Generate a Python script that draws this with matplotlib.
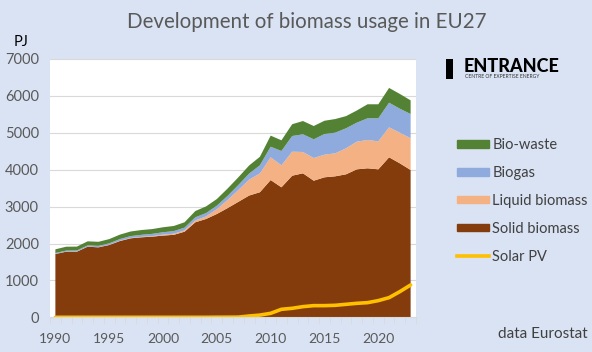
import numpy as np
import matplotlib.pyplot as plt
from matplotlib.patches import Patch, Rectangle
from matplotlib.lines import Line2D

plt.rcParams['font.family'] = ['Lato', 'DejaVu Sans']

years = list(range(1990, 2024))

# PJ
solid = [1715, 1778, 1778, 1914, 1896, 1959, 2068, 2141, 2168, 2186,
         2215, 2235, 2320, 2575, 2665, 2800, 2960, 3130, 3300, 3390,
         3720, 3523, 3838, 3902, 3702, 3794, 3821, 3875, 4010, 4038,
         4010, 4336, 4173, 3992]
liquid = [2, 2, 3, 3, 5, 5, 8, 10, 12, 15,
          25, 30, 35, 50, 70, 130, 220, 320, 430, 510,
          616, 596, 650, 578, 615, 613, 623, 705, 749, 767,
          759, 813, 830, 859]
biogas = [25, 28, 30, 32, 35, 40, 45, 50, 55, 60,
          65, 70, 75, 85, 90, 95, 110, 135, 165, 220,
          287, 388, 425, 479, 507, 560, 559, 542, 515, 588,
          624, 667, 650, 658]
biowaste = [100, 105, 105, 110, 110, 115, 120, 125, 130, 130,
            135, 140, 145, 170, 180, 180, 200, 210, 220, 230,
            300, 290, 320, 360, 360, 360, 370, 330, 330, 380,
            380, 400, 400, 370]
solar_pv = [0, 0, 0, 0, 0, 0, 0, 0, 0, 0,
            0, 0, 0, 0, 0, 2, 3, 5, 35, 60,
            108, 217, 244, 289, 316, 316, 325, 352, 379, 397,
            452, 533, 696, 876]

c_solid = '#843c0c'
c_liquid = '#f4b183'
c_biogas = '#8faadc'
c_waste = '#548235'
c_solar = '#ffc000'
bg = '#dae3f3'
grey = '#595959'

fig = plt.figure(figsize=(5.92, 3.52), dpi=100, facecolor=bg)
ax = fig.add_axes([50/592, 1-317.3/352, 366/592, 258.3/352])
ax.set_facecolor('white')

ax.stackplot(years, solid, liquid, biogas, biowaste,
             colors=[c_solid, c_liquid, c_biogas, c_waste], linewidth=0)
ax.plot(years, solar_pv, color=c_solar, lw=2.6, solid_capstyle='round')

ax.set_xlim(1989.5, 2023.5)
ax.set_ylim(0, 7000)
ax.set_yticks(range(0, 7001, 1000))
ax.yaxis.grid(True, color='#d9d9d9', lw=0.8)
ax.set_axisbelow(True)
ax.set_xticks(range(1990, 2021, 5))
ax.set_xticks(np.arange(1989.5, 2024, 1), minor=True)
ax.tick_params(axis='x', which='major', length=0, labelsize=10, labelcolor=grey, pad=11)
ax.tick_params(axis='x', which='minor', length=4, color='#d9d9d9', direction='out')
ax.tick_params(axis='y', length=0, labelsize=10.5, labelcolor=grey, pad=8)
for s in ['top', 'right', 'left']:
    ax.spines[s].set_visible(False)
ax.spines['bottom'].set_color('#d9d9d9')

fig.text(0.518, 1-22/352, 'Development of biomass usage in EU27', ha='center', va='center',
         fontsize=14.8, color=grey)
fig.text(14/592, 1-42/352, 'PJ', ha='left', va='center', fontsize=10.5, color='black')
fig.text(588/592, 1-334/352, 'data Eurostat', ha='right', va='center', fontsize=11, color='#404040')

# logo
fig.patches.append(Rectangle((446/592, 1-79/352), 7/592, 20/352, transform=fig.transFigure,
                             color='black', lw=0))
fig.text(464/592, 1-66/352, 'ENTRANCE', ha='left', va='center', fontsize=13,
         fontweight='black', color='black')
fig.text(465/592, 1-76.5/352, 'CENTRE OF EXPERTISE ENERGY', ha='left', va='center',
         fontsize=3.6, color='#333333')

handles = [Patch(color=c_waste), Patch(color=c_biogas), Patch(color=c_liquid),
           Patch(color=c_solid), Line2D([], [], color=c_solar, lw=2.6)]
labels = ['Bio-waste', 'Biogas', 'Liquid biomass', 'Solid biomass', 'Solar PV']
fig.legend(handles, labels, loc='upper left', bbox_to_anchor=(444/592, 1-125/352),
           frameon=False, fontsize=10.5, labelcolor='#404040', handlelength=2.2,
           handleheight=0.42, handletextpad=0.2, labelspacing=0.95)

fig.savefig('out.png', dpi=100, facecolor=bg)
